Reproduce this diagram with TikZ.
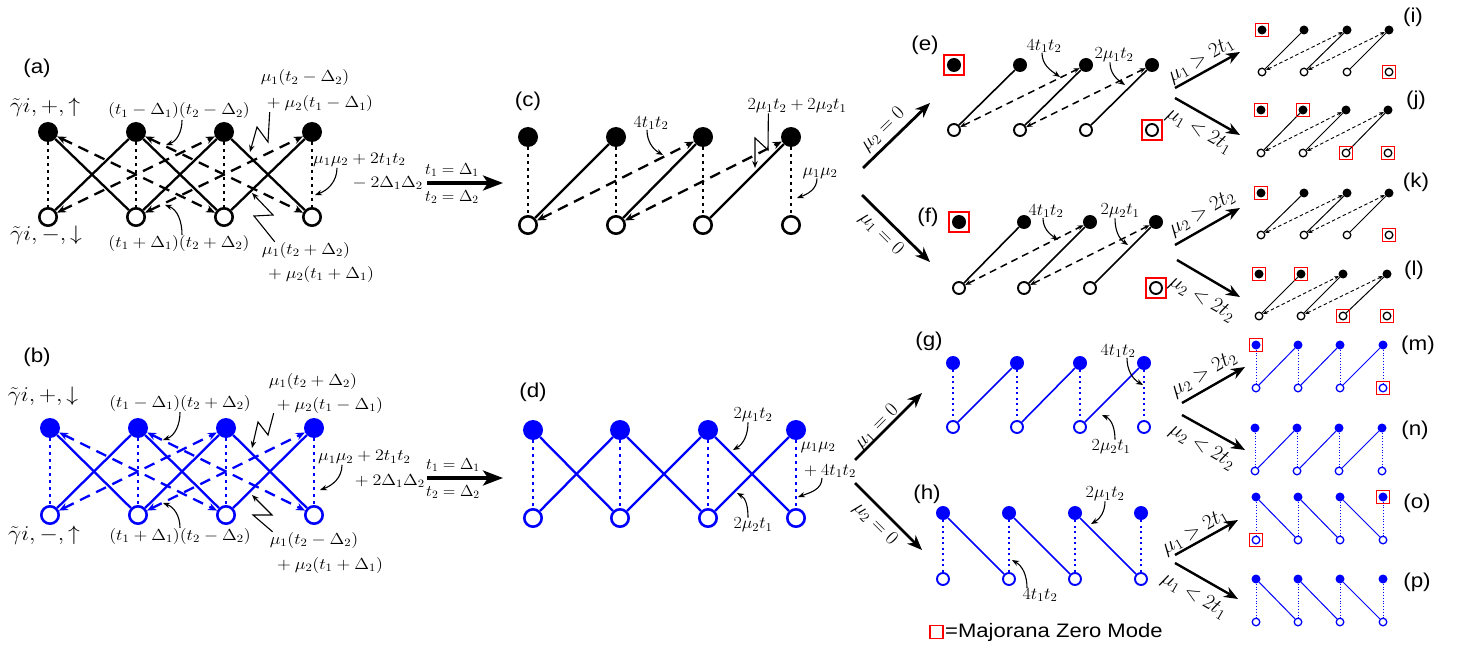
\documentclass[tikz,border=0pt]{standalone}
\usepackage{fix-cm}
\usepackage{fontspec}
\newfontfamily\arialf{Liberation Sans}
\usetikzlibrary{arrows.meta}

% one chain: top row (filled) and bottom row (open) of four sites
\newcommand\mkrow[6]{%
  \foreach \xx [count=\ii] in {#2} {%
    \node[#5] (#1T\ii) at (\xx,#3) {};
    \node[#6] (#1B\ii) at (\xx,#4) {};
  }}
% couplings inside a chain
\newcommand\drawRungs[2]{\foreach \i in {1,...,4}{\draw[#2] (#1T\i) -- (#1B\i);}}
\newcommand\drawUp[2]{\foreach \i/\j in {1/2,2/3,3/4}{\draw[#2] (#1B\i) -- (#1T\j);}}
\newcommand\drawDown[2]{\foreach \i/\j in {1/2,2/3,3/4}{\draw[#2] (#1T\i) -- (#1B\j);}}
\newcommand\drawUpTwo[2]{\foreach \i/\j in {1/3,2/4}{\draw[#2] (#1B\i) -- (#1T\j);}}
\newcommand\drawDownTwo[2]{\foreach \i/\j in {1/3,2/4}{\draw[#2] (#1T\i) -- (#1B\j);}}

\begin{document}
\begin{tikzpicture}[x=1pt,y=-1pt,
  fA/.style={circle,inner sep=0pt,minimum size=20pt,fill=#1},
  oA/.style={circle,inner sep=0pt,minimum size=17.4pt,draw=#1,fill=white,line width=2.6pt},
  fE/.style={circle,inner sep=0pt,minimum size=14pt,fill=#1},
  oE/.style={circle,inner sep=0pt,minimum size=12pt,draw=#1,fill=white,line width=1.9pt},
  fI/.style={circle,inner sep=0pt,minimum size=9pt,fill=#1},
  oI/.style={circle,inner sep=0pt,minimum size=7.6pt,draw=#1,fill=white,line width=1.3pt},
  solA/.style={line width=2.3pt},
  dashA/.style={line width=2.3pt,dash pattern=on 11pt off 7pt,
     {Stealth[length=9pt,width=7.5pt]}-{Stealth[length=9pt,width=7.5pt]}},
  dotA/.style={line width=2.6pt,dash pattern=on 2.6pt off 4.4pt},
  solE/.style={line width=1.6pt},
  dashE/.style={line width=1.5pt,dash pattern=on 7pt off 5pt,
     {Stealth[length=6pt,width=5pt]}-{Stealth[length=6pt,width=5pt]}},
  dotE/.style={line width=2pt,dash pattern=on 2pt off 3.5pt},
  solI/.style={line width=1pt},
  dashI/.style={line width=0.9pt,dash pattern=on 3.5pt off 2.5pt,
     {Stealth[length=4.5pt,width=3.6pt]}-{Stealth[length=4.5pt,width=3.6pt]}},
  dotI/.style={line width=1pt,dash pattern=on 1pt off 1.8pt},
  mzE/.style={rectangle,draw=red,line width=2pt,minimum size=20pt,inner sep=0pt},
  mzI/.style={rectangle,draw=red,line width=1.3pt,minimum size=13pt,inner sep=0pt},
  bigA/.style={line width=3.3pt,-{Stealth[length=20pt,width=15pt,inset=5pt]}},
  diagA/.style={line width=2.8pt,-{Stealth[length=15pt,width=12pt]}},
  diagB/.style={line width=2.4pt,-{Stealth[length=14pt,width=11pt]}},
  ann/.style={line width=1.1pt,-{Stealth[length=7pt,width=5.5pt]}},
  lab/.style={font=\arialf\fontsize{20}{22}\selectfont,xscale=1.12,inner sep=0pt},
  leg/.style={font=\arialf\fontsize{19.5}{22}\selectfont,xscale=1.13,inner sep=0pt},
  mab/.style={font=\fontsize{16}{18}\selectfont,xscale=1.13,inner sep=0pt},
  mth/.style={font=\fontsize{17}{19}\selectfont,xscale=1.06,inner sep=0pt},
  gam/.style={font=\fontsize{21}{23}\selectfont,xscale=1.12,inner sep=0pt},
  arl/.style={font=\fontsize{16}{18}\selectfont,xscale=1.03,inner sep=0pt},
  rtA/.style={font=\fontsize{20}{22}\selectfont,inner sep=0pt},
  rtB/.style={font=\fontsize{21}{23}\selectfont,inner sep=0pt}
]
\fill[white] (0,0) rectangle (1460,650);
\useasboundingbox (0,0) rectangle (1460,650);

% ---------------- sites ----------------
\mkrow{a}{48,136,224,312}{132}{217}{fA=black}{oA=black}
\mkrow{b}{50,138,226,314}{428}{515}{fA=blue}{oA=blue}
\mkrow{c}{528,616,703,791}{137}{225}{fA=black}{oA=black}
\mkrow{d}{533,620,708,796}{430}{518}{fA=blue}{oA=blue}
\mkrow{e}{954,1020,1086,1152}{65}{130}{fE=black}{oE=black}
\mkrow{f}{959,1024,1090,1156}{222}{288}{fE=black}{oE=black}
\mkrow{g}{953,1017,1080,1144}{363}{427}{fE=blue}{oE=blue}
\mkrow{h}{943,1009,1075,1141}{513}{579}{fE=blue}{oE=blue}
\mkrow{i}{1262,1304,1347,1389}{30}{72}{fI=black}{oI=black}
\mkrow{j}{1261,1303,1346,1388}{110}{153}{fI=black}{oI=black}
\mkrow{k}{1261,1304,1347,1389}{193}{235}{fI=black}{oI=black}
\mkrow{l}{1259,1301,1343,1387}{274}{316}{fI=black}{oI=black}
\mkrow{m}{1256,1298,1340,1383}{345}{388}{fI=blue}{oI=blue}
\mkrow{n}{1255,1297,1339,1382}{428}{471}{fI=blue}{oI=blue}
\mkrow{o}{1256,1298,1340,1383}{497}{540}{fI=blue}{oI=blue}
\mkrow{p}{1256,1298,1340,1383}{579}{622}{fI=blue}{oI=blue}

% ---------------- couplings ----------------
\drawRungs{a}{dotA}\drawDown{a}{solA}\drawUp{a}{solA}
\drawDownTwo{a}{dashA}\drawUpTwo{a}{dashA}
\drawRungs{b}{dotA,blue}\drawDown{b}{solA,blue}\drawUp{b}{solA,blue}
\drawDownTwo{b}{dashA,blue}\drawUpTwo{b}{dashA,blue}
\drawRungs{c}{dotA}\drawUp{c}{solA}\drawUpTwo{c}{dashA}
\drawRungs{d}{dotA,blue}\drawDown{d}{solA,blue}\drawUp{d}{solA,blue}
\drawUp{e}{solE}\drawUpTwo{e}{dashE}
\drawUp{f}{solE}\drawUpTwo{f}{dashE}
\drawRungs{g}{dotE,blue}\drawUp{g}{solE,blue}
\drawRungs{h}{dotE,blue}\drawDown{h}{solE,blue}
\foreach \q in {i,j,k,l}{\drawUp{\q}{solI}\drawUpTwo{\q}{dashI}}
\foreach \q in {m,n}{\drawRungs{\q}{dotI,blue}\drawUp{\q}{solI,blue}}
\foreach \q in {o,p}{\drawRungs{\q}{dotI,blue}\drawDown{\q}{solI,blue}}

% ---------------- Majorana zero modes ----------------
\foreach \s in {eT1,eB4,fT1,fB4}{\node[mzE] (z\s) at (\s) {};}
\foreach \s in {iT1,iB4,jT1,jT2,jB3,jB4,kT1,kB4,lT1,lT2,lB3,lB4,mT1,mB4,oB1,oT4}{\node[mzI] (z\s) at (\s) {};}

% ---------------- panel letters ----------------
\node[lab] (la) at (37,68) {(a)};
\node[lab] (lb) at (37,357) {(b)};
\node[lab] (lc) at (528,101) {(c)};
\node[lab] (ld) at (533,392) {(d)};
\node[lab] (le) at (925,45) {(e)};
\node[lab] (lf) at (928,217) {(f)};
\node[lab] (lg) at (929,341) {(g)};
\node[lab] (lh) at (927,494) {(h)};
\node[lab] (li) at (1413,17) {(i)};
\node[lab] (lj) at (1416,100) {(j)};
\node[lab] (lk) at (1416,182) {(k)};
\node[lab] (ll) at (1414,270) {(l)};
\node[lab] (lm) at (1418,345) {(m)};
\node[lab] (ln) at (1415,430) {(n)};
\node[lab] (lo) at (1417,503) {(o)};
\node[lab] (lp) at (1417,582) {(p)};

% ---------------- panel (a) ----------------
\node[gam] (gA1) at (45,107) {$\tilde{\gamma} i,+,\uparrow$};
\node[gam] (gA2) at (46,235) {$\tilde{\gamma} i,-,\downarrow$};
\node[mab] (aL1) at (179,111) {$(t_1-\Delta_1)(t_2-\Delta_2)$};
\node[mab] (aL2) at (179,243) {$(t_1+\Delta_1)(t_2+\Delta_2)$};
\node[mab] (aL3) at (305,78) {$\mu_1(t_2-\Delta_2)$};
\node[mab] (aL4) at (318,104) {${}+\mu_2(t_1-\Delta_1)$};
\node[mab] (aL5) at (306,250) {$\mu_1(t_2+\Delta_2)$};
\node[mab] (aL6) at (319,274) {${}+\mu_2(t_1+\Delta_1)$};
\node[mab,anchor=west] (aL7) at (313,160) {$\mu_1\mu_2+2t_1t_2$};
\node[mab,anchor=east] (aL8) at (423,183) {${}-2\Delta_1\Delta_2$};
\coordinate (aP1) at (166,145);
\coordinate (aP2) at (165,205);
\coordinate (aP3) at (250,152);
\coordinate (aP4) at (252,193);
\coordinate (aP5) at (315,195);
\draw[ann] ([shift={(3,1)}]aL1.south) to[out=-90,in=20] (aP1);
\draw[ann] ([shift={(3,0)}]aL2.north) to[out=90,in=-20] (aP2);
\draw[ann] ([shift={(7,0)}]aL4.south west) -- (268,142) -- (257,127) -- (aP3);
\draw[ann] ([shift={(13,0)}]aL5.north west) -- (254,216) -- (273,215) -- (aP4);
\draw[ann] ([shift={(24,1)}]aL7.south west) to[out=-90,in=20] (aP5);

% ---------------- panel (b) ----------------
\node[gam] (gB1) at (43,396) {$\tilde{\gamma} i,+,\downarrow$};
\node[gam] (gB2) at (44,535) {$\tilde{\gamma} i,-,\uparrow$};
\node[mab] (bL1) at (180,403) {$(t_1-\Delta_1)(t_2+\Delta_2)$};
\node[mab] (bL2) at (180,536) {$(t_1+\Delta_1)(t_2-\Delta_2)$};
\node[mab] (bL3) at (313,381) {$\mu_1(t_2+\Delta_2)$};
\node[mab] (bL4) at (328,405) {${}+\mu_2(t_1-\Delta_1)$};
\node[mab] (bL5) at (314,540) {$\mu_1(t_2-\Delta_2)$};
\node[mab] (bL6) at (328,565) {${}+\mu_2(t_1+\Delta_1)$};
\node[mab,anchor=west] (bL7) at (318,457) {$\mu_1\mu_2+2t_1t_2$};
\node[mab,anchor=east] (bL8) at (425,481) {${}+2\Delta_1\Delta_2$};
\coordinate (bP1) at (163,440);
\coordinate (bP2) at (163,503);
\coordinate (bP3) at (252,448);
\coordinate (bP4) at (252,495);
\coordinate (bP5) at (320,490);
\draw[ann] ([shift={(0,1)}]bL1.south) to[out=-90,in=20] (bP1);
\draw[ann] (bL2.north) to[out=90,in=-20] (bP2);
\draw[ann] ([shift={(1,0)}]bL4.south west) -- (268,435) -- (258,422) -- (bP3);
\draw[ann] ([shift={(3,0)}]bL5.north west) -- (253,515) -- (272,515) -- (bP4);
\draw[ann] ([shift={(24,1)}]bL7.south west) to[out=-90,in=20] (bP5);

% ---------------- limit t = Delta ----------------
\coordinate (kAs) at (427,183); \coordinate (kAe) at (503,183);
\coordinate (kBs) at (427,478); \coordinate (kBe) at (503,478);
\draw[bigA] (kAs) -- (kAe);
\draw[bigA] (kBs) -- (kBe);
\node[arl] (acT) at (452,170) {$t_1=\Delta_1$};
\node[arl] (acB) at (452,197) {$t_2=\Delta_2$};
\node[arl] (bdT) at (453,465) {$t_1=\Delta_1$};
\node[arl] (bdB) at (453,492) {$t_2=\Delta_2$};

% ---------------- panel (c) ----------------
\node[mth] (cL1) at (651,123) {$4t_1t_2$};
\node[mth] (cL2) at (797,106) {$2\mu_1t_2+2\mu_2t_1$};
\node[mth] (cL3) at (820,173) {$\mu_1\mu_2$};
\coordinate (cP1) at (663,155);
\coordinate (cP2) at (755,168);
\coordinate (cP3) at (797,198);
\draw[ann] ([shift={(-4,0)}]cL1.south) to[out=-90,in=150] (cP1);
\draw[ann] ([shift={(21,0)}]cL2.south west) -- (768,150) -- (755,138) -- (cP2);
\draw[ann] ([shift={(-3,0)}]cL3.south) to[out=-90,in=20] (cP3);

% ---------------- panel (d) ----------------
\node[mth] (dL1) at (753,415) {$2\mu_1t_2$};
\node[mth] (dL2) at (753,525) {$2\mu_2t_1$};
\node[mth] (dL3) at (818,447) {$\mu_1\mu_2$};
\node[mth] (dL4) at (828,471) {${}+4t_1t_2$};
\coordinate (dP1) at (733,450);
\coordinate (dP2) at (737,493);
\coordinate (dP3) at (798,497);
\draw[ann] ([shift={(-5,0)}]dL1.south) to[out=-90,in=30] (dP1);
\draw[ann] ([shift={(-5,0)}]dL2.north) to[out=90,in=-30] (dP2);
\draw[ann] ([shift={(-6,0)}]dL4.south) to[out=-90,in=20] (dP3);

% ---------------- mu_i = 0 ----------------
\coordinate (kCs) at (863,168); \coordinate (kCe) at (930,103);
\coordinate (kDs) at (862,195); \coordinate (kDe) at (930,262);
\coordinate (kEs) at (855,460); \coordinate (kEe) at (922,393);
\coordinate (kFs) at (855,483); \coordinate (kFe) at (922,550);
\draw[diagA] (kCs) -- (kCe);
\draw[diagA] (kDs) -- (kDe);
\draw[diagA] (kEs) -- (kEe);
\draw[diagA] (kFs) -- (kFe);
\node[rtA,rotate=44] (r1) at (883,130) {$\mu_2=0$};
\node[rtA,rotate=-45] (r2) at (881,234) {$\mu_1=0$};
\node[rtA,rotate=45] (r3) at (877,427) {$\mu_1=0$};
\node[rtA,rotate=-45] (r4) at (875,524) {$\mu_2=0$};

% ---------------- panels (e)-(h) ----------------
\node[mth] (eL1) at (1044,46) {$4t_1t_2$};
\node[mth] (eL2) at (1114,55) {$2\mu_1t_2$};
\node[mth] (fL1) at (1046,211) {$4t_1t_2$};
\node[mth] (fL2) at (1120,211) {$2\mu_2t_1$};
\node[mth] (gL1) at (1118,351) {$4t_1t_2$};
\node[mth] (gL2) at (1111,447) {$2\mu_2t_1$};
\node[mth] (hL1) at (1105,494) {$2\mu_1t_2$};
\node[mth] (hL2) at (1040,595) {$4t_1t_2$};
\coordinate (eP1) at (1060,77);
\coordinate (eP2) at (1125,85);
\coordinate (fP1) at (1058,240);
\coordinate (fP2) at (1128,245);
\coordinate (gP1) at (1143,385);
\coordinate (gP2) at (1102,415);
\coordinate (hP1) at (1091,524);
\coordinate (hP2) at (1012,560);
\draw[ann] ([shift={(-2,0)}]eL1.south) to[out=-90,in=145] (eP1);
\draw[ann] ([shift={(-4,0)}]eL2.south) to[out=-90,in=145] (eP2);
\draw[ann] ([shift={(-3,0)}]fL1.south) to[out=-90,in=145] (fP1);
\draw[ann] ([shift={(-5,0)}]fL2.south) to[out=-90,in=145] (fP2);
\draw[ann] ([shift={(9,0)}]gL1.south) to[out=-90,in=150] (gP1);
\draw[ann] ([shift={(4,0)}]gL2.north) to[out=90,in=-25] (gP2);
\draw[ann] (hL1.south) to[out=-90,in=30] (hP1);
\draw[ann] ([shift={(-13,0)}]hL2.north) to[out=90,in=-30] (hP2);

% ---------------- mu versus 2t ----------------
\coordinate (kGs) at (1175,88);  \coordinate (kGe) at (1240,52);
\coordinate (kHs) at (1175,98);  \coordinate (kHe) at (1240,135);
\coordinate (kIs) at (1175,245); \coordinate (kIe) at (1240,208);
\coordinate (kJs) at (1177,260); \coordinate (kJe) at (1240,297);
\coordinate (kKs) at (1182,403); \coordinate (kKe) at (1245,367);
\coordinate (kLs) at (1182,415); \coordinate (kLe) at (1245,450);
\coordinate (kMs) at (1175,555); \coordinate (kMe) at (1238,520);
\coordinate (kNs) at (1175,563); \coordinate (kNe) at (1238,599);
\foreach \q in {G,H,I,J,K,L,M,N}{\draw[diagB] (k\q s) -- (k\q e);}
\node[rtB,rotate=30] (r5) at (1201,60) {$\mu_1>2t_1$};
\node[rtB,rotate=-30] (r6) at (1199,131) {$\mu_1<2t_1$};
\node[rtB,rotate=30] (r7) at (1202,213) {$\mu_2>2t_2$};
\node[rtB,rotate=-30] (r8) at (1202,299) {$\mu_2<2t_2$};
\node[rtB,rotate=30] (r9) at (1204,374) {$\mu_2>2t_2$};
\node[rtB,rotate=-30] (r10) at (1202,447) {$\mu_2<2t_2$};
\node[rtB,rotate=30] (r11) at (1195,532) {$\mu_1>2t_1$};
\node[rtB,rotate=-30] (r12) at (1194,596) {$\mu_1<2t_1$};

% ---------------- legend ----------------
\node[mzI,line width=1.5pt] (legbox) at (936.5,632) {};
\node[leg,anchor=west] (legtxt) at (945,632) {=Majorana Zero Mode};
\end{tikzpicture}
\end{document}
